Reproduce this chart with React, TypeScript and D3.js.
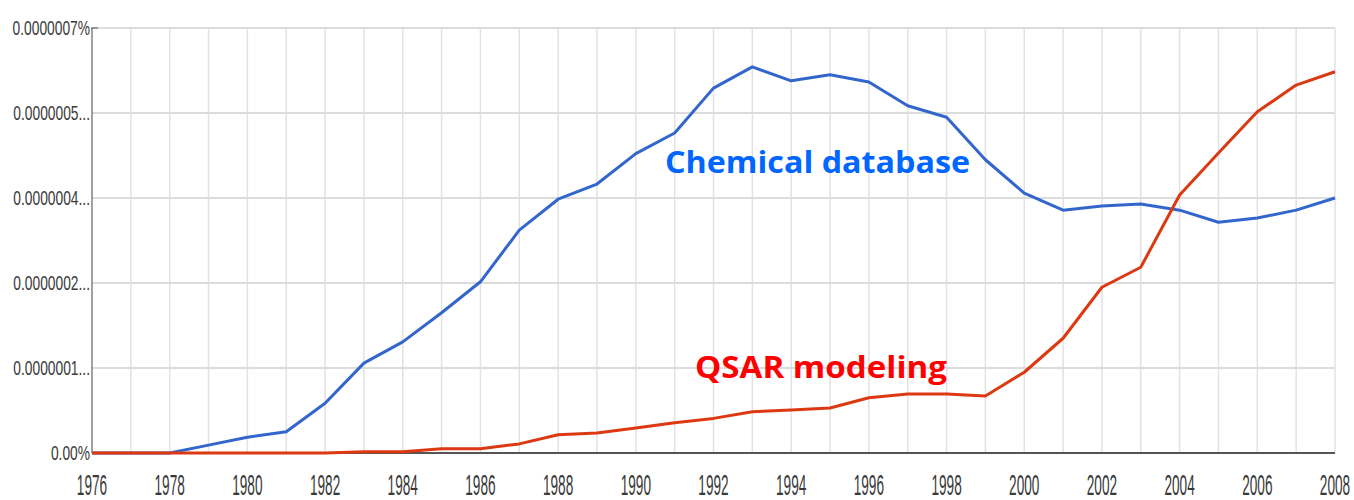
import React from "react";
import * as d3 from "d3";

// values in units of 1e-7 percent
const years: number[] = [
  1976, 1977, 1978, 1979, 1980, 1981, 1982, 1983, 1984, 1985, 1986, 1987, 1988,
  1989, 1990, 1991, 1992, 1993, 1994, 1995, 1996, 1997, 1998, 1999, 2000, 2001,
  2002, 2003, 2004, 2005, 2006, 2007, 2008,
];
const chemicalDatabase: number[] = [
  0, 0, 0, 0.13, 0.26, 0.35, 0.82, 1.48, 1.83, 2.31, 2.82, 3.67, 4.18, 4.43,
  4.93, 5.27, 6.01, 6.36, 6.13, 6.23, 6.11, 5.72, 5.53, 4.83, 4.28, 4.0, 4.07,
  4.1, 4.0, 3.8, 3.87, 4.0, 4.2,
];
const qsarModeling: number[] = [
  0, 0, 0, 0, 0, 0, 0, 0.02, 0.02, 0.07, 0.07, 0.15, 0.3, 0.33, 0.41, 0.5,
  0.57, 0.68, 0.71, 0.74, 0.91, 0.97, 0.97, 0.94, 1.33, 1.89, 2.73, 3.06, 4.25,
  4.94, 5.62, 6.06, 6.28,
];
const yTickValues: number[] = [0, 1.4, 2.8, 4.2, 5.6, 7];
const yTickLabels: string[] = [
  "0.00%",
  "0.0000001...",
  "0.0000002...",
  "0.0000004...",
  "0.0000005...",
  "0.0000007%",
];
const xTickYears: number[] = d3.range(1976, 2009, 2);

const W = 1354;
const H = 500;
const left = 92;
const right = 1335;
const top = 28;
const bottom = 453;

export default function App() {
  const x = d3.scaleLinear().domain([1976, 2008]).range([left, right]);
  const y = d3.scaleLinear().domain([0, 7]).range([bottom, top]);
  const line = d3
    .line<number>()
    .x((_, i) => x(years[i]))
    .y((d) => y(d));

  const gridYears = d3.range(1977, 2009);

  return (
    <svg
      width={W}
      height={H}
      style={{ position: "absolute", left: 0, top: 0, background: "#fff" }}
    >
      {/* vertical grid */}
      {gridYears.map((yr) => (
        <line
          key={"v" + yr}
          x1={x(yr)}
          x2={x(yr)}
          y1={top}
          y2={bottom}
          stroke="#e2e2e2"
          strokeWidth={1.5}
        />
      ))}
      {/* horizontal grid */}
      {yTickValues.map((v) => (
        <line
          key={"h" + v}
          x1={left}
          x2={right}
          y1={y(v)}
          y2={y(v)}
          stroke="#dcdcdc"
          strokeWidth={2}
        />
      ))}
      {/* axes */}
      <line x1={left} x2={left} y1={top} y2={bottom} stroke="#444" strokeWidth={1} />
      <line x1={left - 1} x2={left + 6} y1={top} y2={top} stroke="#555" strokeWidth={1} />
      <line x1={left} x2={right} y1={bottom} y2={bottom} stroke="#555" strokeWidth={2} />

      {/* y labels */}
      {yTickValues.map((v, i) => (
        <text
          key={"yl" + v}
          transform={`translate(${left - 2},${y(v) + 7}) scale(0.69,1)`}
          textAnchor="end"
          fontFamily="'Liberation Sans', Arial, sans-serif"
          fontSize={20}
          fill="#3a3a3a"
        >
          {yTickLabels[i]}
        </text>
      ))}
      {/* x labels */}
      {xTickYears.map((yr) => (
        <text
          key={"xl" + yr}
          transform={`translate(${x(yr)},${495}) scale(0.47,1)`}
          textAnchor="middle"
          fontFamily="'Liberation Sans', Arial, sans-serif"
          fontSize={29}
          fill="#3a3a3a"
        >
          {yr}
        </text>
      ))}

      {/* lines */}
      <path
        d={line(chemicalDatabase) || ""}
        fill="none"
        stroke="#3366cc"
        strokeWidth={3}
        strokeLinejoin="round"
      />
      <path
        d={line(qsarModeling) || ""}
        fill="none"
        stroke="#dc3912"
        strokeWidth={3}
        strokeLinejoin="round"
      />

      {/* annotations */}
      <text
        x={665}
        y={173}
        textLength={305}
        lengthAdjust="spacingAndGlyphs"
        fontFamily="'Open Sans', Lato, sans-serif"
        fontWeight="bold"
        fontSize={31}
        fill="#0066ff"
      >
        Chemical database
      </text>
      <text
        x={695}
        y={378}
        textLength={252}
        lengthAdjust="spacingAndGlyphs"
        fontFamily="'Open Sans', Lato, sans-serif"
        fontWeight="bold"
        fontSize={31}
        fill="#ff0000"
      >
        QSAR modeling
      </text>
    </svg>
  );
}
